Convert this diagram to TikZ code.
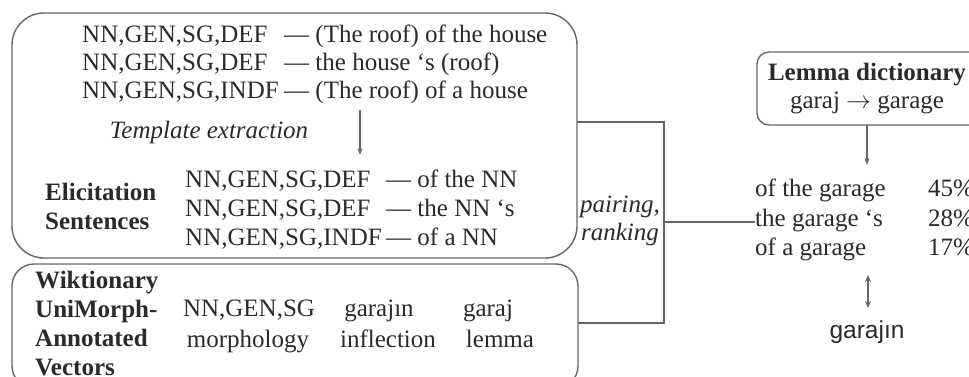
\documentclass[tikz,border=0pt]{standalone}
\usepackage{fontspec}
\setmainfont{Liberation Serif}
\newfontfamily\sansfam{Liberation Sans}
\usetikzlibrary{arrows.meta}
\definecolor{linec}{HTML}{666666}
\definecolor{txtc}{HTML}{2A2A2A}
\begin{document}
\begin{tikzpicture}[x=1pt,y=-1pt,
  box/.style={draw=linec, line width=1.4pt, inner sep=0pt, outer sep=0pt},
  txt/.style={font=\fontsize{25}{30}\selectfont, text=txtc, inner sep=0pt, anchor=base west},
  ctxt/.style={txt, anchor=base},
  conn/.style={draw=linec, line width=1.3pt},
  arr/.style={conn, -{Stealth[length=7pt,width=5pt]}},
  darr/.style={conn, {Stealth[length=7pt,width=6pt]}-{Stealth[length=7pt,width=6pt]}}
]
\useasboundingbox (0,0) rectangle (969,376);
\clip (0,0) rectangle (969,376);
% boxes
\node[box, rounded corners=32pt, minimum width=565pt, minimum height=245pt] (top) at (294.5,135.5) {};
\node[box, rounded corners=22pt, minimum width=566pt, minimum height=124pt] (bot) at (295,326) {};
\node[box, rounded corners=12pt, minimum width=232pt, minimum height=73pt] (lem) at (873,88.5) {};
% top rows
\node[txt] (r1a) at (82,42) {NN,GEN,SG,DEF};
\node[txt] (r1b) at (284,42) {— (The roof) of the house};
\node[txt] (r2a) at (82,70) {NN,GEN,SG,DEF};
\node[txt] (r2b) at (284,70) {— the house ‘s (roof)};
\node[txt] (r3a) at (82,98) {NN,GEN,SG,INDF};
\node[txt] (r3b) at (284,98) {— (The roof) of a house};
\node[ctxt] (tmpl) at (209,138) {\itshape Template extraction};
\coordinate (a1) at (360,110);
\coordinate (a2) at (360,155);
\draw[arr] (a1) -- (a2);
% template rows
\node[txt] (t1a) at (185,187) {NN,GEN,SG,DEF};
\node[txt] (t1b) at (386,187) {— of the NN};
\node[txt] (t2a) at (185,216) {NN,GEN,SG,DEF};
\node[txt] (t2b) at (386,216) {— the NN ‘s};
\node[txt] (t3a) at (185,245) {NN,GEN,SG,INDF};
\node[txt] (t3b) at (386,245) {— of a NN};
\node[txt] (el1) at (45,200) {\bfseries Elicitation};
\node[txt] (el2) at (45,229) {\bfseries Sentences};
% bottom box
\node[txt] (w1) at (35,288) {\bfseries Wiktionary};
\node[txt] (w2) at (35,317) {\bfseries UniMorph-};
\node[txt] (w3) at (35,346) {\bfseries Annotated};
\node[txt] (w4) at (35,375) {\bfseries Vectors};
\node[ctxt] (m1) at (249,316) {NN,GEN,SG};
\node[ctxt] (m2) at (248,347) {morphology};
\node[ctxt] (i1) at (379,316) {garajın};
\node[ctxt] (i2) at (388,347) {inflection};
\node[ctxt] (g1) at (488,316) {garaj};
\node[ctxt] (g2) at (500,347) {lemma};
% pairing
\node[ctxt] (p1) at (620,212) {\itshape pairing,};
\node[ctxt] (p2) at (620,240) {\itshape ranking};
% lemma dictionary
\node[ctxt] (ld1) at (867,80) {\bfseries Lemma dictionary};
\node[ctxt] (ld2) at (867,108) {garaj $\rightarrow$ garage};
% right list
\node[txt] (l1) at (755,196) {of the garage};
\node[txt] (l2) at (755,226) {the garage ‘s};
\node[txt] (l3) at (755,255) {of a garage};
\node[txt] (pc1) at (928,196) {45\%};
\node[txt] (pc2) at (928,226) {28\%};
\node[txt] (pc3) at (928,255) {17\%};
\node[ctxt, font=\sansfam\fontsize{24.5}{29}\selectfont] (gs) at (867,338) {garajın};
% connectors
\coordinate (j1) at (664,122);
\coordinate (j2) at (664,323);
\coordinate (jm) at (664,222);
\coordinate (la0) at (867,125);
\coordinate (la) at (867,165);
\draw[conn] (top.east |- j1) -- (j1) -- (j2) -- (bot.east |- j2);
\draw[conn] (jm) -- (l2.west |- jm);
\draw[arr] (la0 |- lem.south) -- (la);
\coordinate (u1) at (868,275);
\coordinate (u2) at (868,308);
\draw[darr] (u1) -- (u2);
\end{tikzpicture}
\end{document}
